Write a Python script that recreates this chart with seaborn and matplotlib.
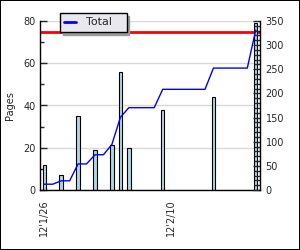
import matplotlib
matplotlib.use("Agg")
import matplotlib.pyplot as plt
from matplotlib.patches import Rectangle
from matplotlib.ticker import MultipleLocator, FixedLocator
import numpy as np
import pandas as pd
import seaborn as sns

# pages per day (only the days that have a bar)
bar_dates = ["2012-01-26", "2012-01-28", "2012-01-30", "2012-02-01", "2012-02-03",
             "2012-02-04", "2012-02-05", "2012-02-09", "2012-02-15", "2012-02-20"]
pages = [12, 7, 35, 19, 21.5, 56, 20, 38, 44, 79]

# running total, one value per day 12/1/26 .. 12/2/20
total = [12, 12, 19, 19, 54, 54, 73, 73, 94.5, 150.5,
         170.5, 170.5, 170.5, 170.5, 208.5, 208.5, 208.5, 208.5, 208.5, 208.5,
         252.5, 252.5, 252.5, 252.5, 252.5, 331.5]

target = 75
tick_labels = ["12'1/26", "12'2/10"]
tick_dates = ["2012-01-26", "2012-02-10"]

start = pd.Timestamp("2012-01-26")
bar_days = [(pd.Timestamp(d) - start).days for d in bar_dates]
total_days = list(range(len(total)))
tick_days = [(pd.Timestamp(d) - start).days for d in tick_dates]

df_bars = pd.DataFrame({"day": bar_days, "pages": pages})
df_total = pd.DataFrame({"day": total_days, "total": total})

sns.set_style("white")
plt.rcParams["font.family"] = ["DejaVu Sans"]
plt.rcParams["font.size"] = 7

fig = plt.figure(figsize=(3, 2.5), dpi=100)
ax = fig.add_axes([40 / 300, 1 - 190 / 250, 220 / 300, 169 / 250])

ax.axhline(target, color="red", lw=2, zorder=1)
sns.barplot(data=df_bars, x="day", y="pages", native_scale=True, width=0.4,
            color="#add8e6", saturation=1, edgecolor="black", linewidth=0.8,
            ax=ax, zorder=2)

ax.set_xlim(-0.5, len(total) - 0.5)
ax.set_ylim(0, 80)
ax.yaxis.set_major_locator(MultipleLocator(20))
ax.yaxis.set_minor_locator(MultipleLocator(10))
ax.grid(axis="y", which="major", color="#d8d8d8", lw=1)
ax.set_axisbelow(True)
ax.xaxis.set_major_locator(FixedLocator(tick_days))
ax.set_xticklabels(tick_labels, rotation=90)
ax.xaxis.set_minor_locator(FixedLocator(np.arange(0.5, len(total) - 1, 1)))
ax.tick_params(axis="x", which="major", length=0, pad=7)
ax.tick_params(axis="x", which="minor", direction="in", length=5, width=1)
ax.tick_params(axis="y", which="major", direction="in", length=5, width=1, pad=3)
ax.tick_params(axis="y", which="minor", direction="in", length=3, width=1)
ax.set_xlabel("")
ax.set_ylabel("Pages", labelpad=6)
for s in ["left", "bottom"]:
    ax.spines[s].set_color("black")
    ax.spines[s].set_linewidth(1)
ax.spines["top"].set_visible(False)
ax.spines["right"].set_visible(False)

ax2 = ax.twinx()
sns.lineplot(data=df_total, x="day", y="total", color="blue", lw=1, ax=ax2, label="Total")
ax2.set_ylim(0, 350)
ax2.yaxis.set_major_locator(MultipleLocator(50))
ax2.yaxis.set_minor_locator(MultipleLocator(10))
ax2.tick_params(axis="y", which="major", direction="in", length=5, width=1, pad=4)
ax2.tick_params(axis="y", which="minor", direction="in", length=4, width=1)
ax2.set_ylabel("")
ax2.set_xlabel("")
ax2.spines["top"].set_visible(False)
ax2.spines["left"].set_visible(False)
ax2.spines["bottom"].set_visible(False)
ax2.spines["right"].set_color("black")
ax2.spines["right"].set_linewidth(1)

leg = ax2.legend(loc="upper left", bbox_to_anchor=(60 / 300, 1 - 13 / 250),
                 bbox_transform=fig.transFigure, borderaxespad=0, frameon=True,
                 fancybox=False, shadow={"color": "#999999", "alpha": 1},
                 edgecolor="black", facecolor="#eae8ef", framealpha=1,
                 handlelength=1.0, handletextpad=0.9, borderpad=0.4, fontsize=8)
leg.get_frame().set_linewidth(1)
for h in leg.get_lines():
    h.set_linewidth(2)
leg.get_texts()[0].set_text("Total   ")

# 1px black border round the whole picture
fig.patches.append(Rectangle((0, 0), 1, 1, transform=fig.transFigure, fill=False,
                             edgecolor="black", lw=1.44))

fig.savefig("out.png", dpi=100)
